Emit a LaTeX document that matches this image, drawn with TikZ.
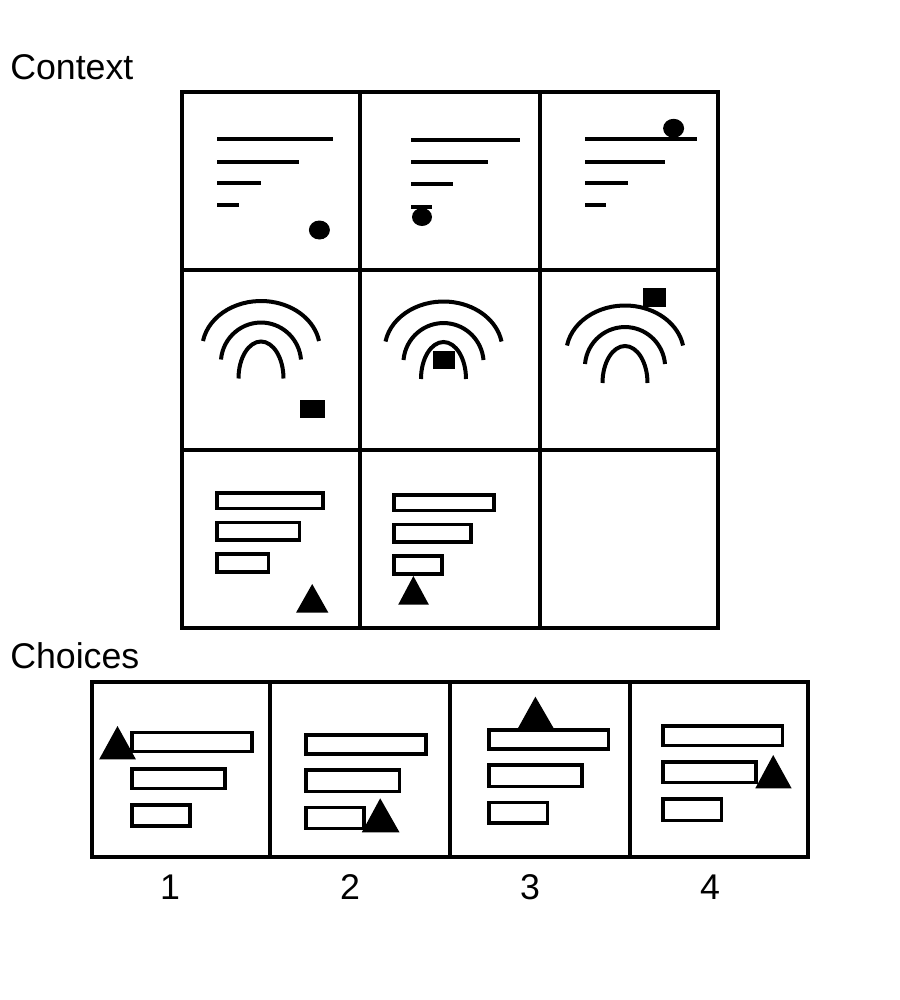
\documentclass[tikz,border=0pt]{standalone}
\usepackage{fontspec}
\setmainfont{Liberation Sans}
\begin{document}
\begin{tikzpicture}[x=0.75pt,y=0.75pt,yscale=-1,xscale=1,
    gridline/.style={line width=3pt},
    textline/.style={line width=3pt},
    arcline/.style={line width=3pt},
    barbox/.style={line width=2.6pt},
    label/.style={inner sep=0pt,font=\fontsize{26.8}{32}\selectfont}]
            \useasboundingbox (0,0) rectangle (900,1000);
            \node[label,anchor=base west] (context) at (10,79) {Context};
            \node[label,anchor=base west] (choices) at (10,668) {Choices};
            \draw[gridline] (182,92) rectangle (718,628);
            \draw[gridline] (360,92) -- (360,628);
            \draw[gridline] (540,92) -- (540,628);
            \draw[gridline] (182,270) -- (718,270);
            \draw[gridline] (182,450) -- (718,450);
            \draw[textline] (217,139) -- (332.5,139);
            \draw[textline] (217,162.3) -- (298.8,162.3);
            \draw[textline] (217,182.7) -- (260.9,182.7);
            \draw[textline] (217,205.3) -- (239.2,205.3);
            \fill[black] (319.4,230) ellipse [x radius=10.5, y radius=9.5];
            \draw[textline] (411,140) -- (520.4,140);
            \draw[textline] (411,162.3) -- (488.4,162.3);
            \draw[textline] (411,184) -- (452.6,184);
            \draw[textline] (411,206.7) -- (432,206.7);
            \fill[black] (422,217) ellipse [x radius=10, y radius=9];
            \draw[textline] (585,139) -- (697.4,139);
            \draw[textline] (585,162.3) -- (664.7,162.3);
            \draw[textline] (585,182.7) -- (627.5,182.7);
            \draw[textline] (585,205.3) -- (606.2,205.3);
            \fill[black] (673.6,128.3) ellipse [x radius=10.5, y radius=9.5];
            \draw[arcline] (203,341) arc[start angle=190, end angle=350, x radius=58.9, y radius=48.4];
            \draw[arcline] (221,359.5) arc[start angle=185, end angle=355, x radius=40.15, y radius=40.5];
            \draw[arcline] (238.5,378.5) arc[start angle=180, end angle=360, x radius=22.5, y radius=37];
            \fill[black] (300,400) rectangle (325,418);
            \draw[arcline] (385.5,341.5) arc[start angle=190, end angle=350, x radius=58.9, y radius=48.4];
            \draw[arcline] (403.5,360) arc[start angle=185, end angle=355, x radius=40.15, y radius=40.5];
            \draw[arcline] (421,379) arc[start angle=180, end angle=360, x radius=22.5, y radius=37];
            \fill[black] (433,351) rectangle (455,369);
            \draw[arcline] (567,345.5) arc[start angle=190, end angle=350, x radius=58.9, y radius=48.4];
            \draw[arcline] (585,364) arc[start angle=185, end angle=355, x radius=40.15, y radius=40.5];
            \draw[arcline] (602.5,383) arc[start angle=180, end angle=360, x radius=22.5, y radius=37];
            \fill[black] (643,288) rectangle (666,307);
            \draw[barbox] (217,493) rectangle (323,508.5);
            \draw[barbox] (217,522.5) rectangle (299.5,540);
            \draw[barbox] (217,554) rectangle (268.7,572);
            \fill[black] (312.2,584) -- (328.4,612.7) -- (296,612.7) -- cycle;
            \draw[barbox] (394,495) rectangle (494,510.5);
            \draw[barbox] (394,524.5) rectangle (471,542);
            \draw[barbox] (394,556) rectangle (442,574);
            \fill[black] (413.4,576) -- (428.9,604.7) -- (398.2,604.7) -- cycle;
            \draw[gridline] (92,682) rectangle (808,857);
            \draw[gridline] (270,682) -- (270,857);
            \draw[gridline] (450,682) -- (450,857);
            \draw[gridline] (630,682) -- (630,857);
            \draw[barbox] (132,732.5) rectangle (252,751.5);
            \draw[barbox] (132,769) rectangle (225,788.5);
            \draw[barbox] (132,805) rectangle (190,826);
            \fill[black] (117.5,726) -- (135.9,759.3) -- (99.2,759.3) -- cycle;
            \draw[barbox] (306,735) rectangle (426,754);
            \draw[barbox] (306,770) rectangle (399.5,791.5);
            \draw[barbox] (306,807.5) rectangle (364,828.5);
            \fill[black] (380.2,798.3) -- (399.5,832.3) -- (361.8,832.3) -- cycle;
            \draw[barbox] (489,730) rectangle (608.5,749);
            \draw[barbox] (489,765) rectangle (582,786.5);
            \draw[barbox] (489,802.5) rectangle (547.5,823);
            \fill[black] (535.4,696.7) -- (553.7,728.3) -- (517.9,728.3) -- cycle;
            \draw[barbox] (663,726) rectangle (782.5,745.5);
            \draw[barbox] (663,762) rectangle (756,782.5);
            \draw[barbox] (663,799) rectangle (721.5,820.5);
            \fill[black] (773.2,755) -- (791.6,788.3) -- (755.3,788.3) -- cycle;
            \node[label,anchor=base] (n1) at (170,899) {1};
            \node[label,anchor=base] (n2) at (350,899) {2};
            \node[label,anchor=base] (n3) at (530,899) {3};
            \node[label,anchor=base] (n4) at (710,899) {4};
        \end{tikzpicture}
\end{document}
